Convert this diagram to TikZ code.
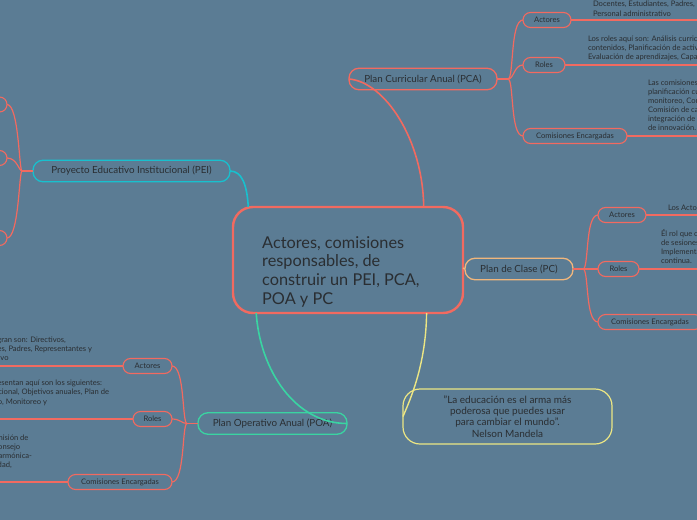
\documentclass[tikz,border=0pt]{standalone}
\usepackage{fontspec}
\setmainfont{Lato}
\definecolor{bg}{RGB}{91,124,148}
\definecolor{coral}{RGB}{242,106,96}
\definecolor{pcyan}{RGB}{24,192,206}
\definecolor{pgreen}{RGB}{58,212,162}
\definecolor{pyellow}{RGB}{236,230,132}
\definecolor{porange}{RGB}{240,182,124}
\definecolor{ink}{RGB}{42,46,50}
\begin{document}
\begin{tikzpicture}[x=1pt,y=-1pt,
  mainbox/.style={draw, line width=1.3pt, rounded corners=10pt, minimum height=21.5pt, inner sep=0pt, outer sep=0pt, text=ink, font=\fontsize{9.8}{11}\selectfont},
  subbox/.style={draw=coral, line width=1.1pt, rounded corners=7.5pt, minimum height=15pt, inner sep=0pt, outer sep=0pt, text=ink, font=\fontsize{7.6}{9}\selectfont},
  desc/.style={inner sep=0pt, outer sep=0pt, text=ink, align=left, font=\fontsize{7.6}{9.3}\selectfont},
  link/.style={coral, line width=1.3pt},
  bracket/.style={coral, line width=1.2pt},
]
\useasboundingbox (0,0) rectangle (697,520);
\fill[bg] (0,0) rectangle (697,520);
\begin{scope}
\clip (0,0) rectangle (697,520);
\coordinate (rightedge) at (705,0);
\coordinate (leftedge) at (-8,0);

% central topic
\node[draw=coral, line width=2.4pt, rounded corners=20pt, minimum width=230pt, minimum height=106pt, inner sep=0pt, outer sep=0pt] (central) at (348,260) {};
\node[anchor=base west, align=left, inner sep=0pt, text=ink, font=\fontsize{16.3}{18.8}\selectfont] (centraltxt) at (262,304.4) {Actores, comisiones\\responsables, de\\construir un PEI, PCA,\\POA y PC};

% main topics
\node[mainbox, draw=coral, minimum width=148pt] (pca) at (423,79) {Plan Curricular Anual (PCA)};
\node[mainbox, draw=pcyan, minimum width=197pt] (pei) at (131.5,171) {Proyecto Educativo Institucional (PEI)};
\node[mainbox, draw=pgreen, minimum width=149pt] (poa) at (272.5,423.5) {Plan Operativo Anual (POA)};
\node[mainbox, draw=porange, minimum width=108pt] (pc) at (519,269) {Plan de Clase (PC)};
\node[draw=pyellow, line width=1.2pt, rounded corners=17pt, minimum width=209pt, minimum height=55pt, inner sep=0pt, outer sep=0pt, align=center, text=ink, font=\fontsize{10}{11.2}\selectfont] (quote) at (507.5,416.5) {"La educación es el arma más\\poderosa que puedes usar\\para cambiar el mundo".\\Nelson Mandela};

% connectors from central topic
\draw[coral, line width=1.6pt] (central.35) .. controls (423,140) and (385,82) .. (pca.west);
\draw[pcyan, line width=1.6pt] (pei.east) .. controls (242,171) and (247,185) .. (central.152);
\draw[pgreen, line width=1.6pt] (central.210) .. controls (260,370) and (295,423.5) .. (poa.east);
\draw[pyellow, line width=1.4pt] (central.-34.5) .. controls (426,365) and (410,400) .. (quote.west);
\draw[porange, line width=1.4pt] (central.-4.5) -- (pc.west);

% ---------- PCA subtopics
\node[subbox, minimum width=48pt] (pcaA) at (547,20) {Actores};
\node[subbox, minimum width=42pt] (pcaR) at (544,65) {Roles};
\node[subbox, minimum width=104pt] (pcaC) at (575,136) {Comisiones Encargadas};
\coordinate (pcaJ) at (508,79);
\draw[bracket] (pca.east) -- (pcaJ);
\draw[bracket] (pcaJ) .. controls +(6,0) and +(-13,0) .. (pcaA.west);
\draw[bracket] (pcaJ) .. controls +(6,0) and +(-9,0) .. (pcaR.west);
\draw[bracket] (pcaJ) .. controls +(6,0) and +(-13,0) .. (pcaC.west);
\draw[link] (pcaA.east) -- (pcaA.east -| rightedge);
\draw[link] (pcaR.east) -- (pcaR.east -| rightedge);
\draw[link] (pcaC.east) -- (pcaC.east -| rightedge);
\node[desc, anchor=base west] (pcaAd) at (593,16) {Los actores que integran son: Directivos,\\Docentes, Estudiantes, Padres, Representantes y\\Personal administrativo};
\node[desc, anchor=base west] (pcaRd) at (588,59.6) {Los roles aquí son: Análisis curricular,\\contenidos, Planificación de actividades,\\Evaluación de aprendizajes, Capacitación};
\node[desc, anchor=base west, font=\fontsize{7.6}{9}\selectfont] (pcaCd) at (648,130.5) {Las comisiones son: Comisión de\\planificación curricular,\\monitoreo, Comisión\\Comisión de calidad,\\integración de áreas\\de innovación.};

% ---------- PC subtopics
\node[subbox, minimum width=48pt] (pcA) at (622,215) {Actores};
\node[subbox, minimum width=41pt] (pcR) at (618.5,269) {Roles};
\node[subbox, minimum width=104pt] (pcC) at (650,322) {Comisiones Encargadas};
\coordinate (pcJ) at (583,269);
\draw[bracket] (pc.east) -- (pcJ);
\draw[bracket] (pcJ) .. controls +(6,0) and +(-13,0) .. (pcA.west);
\draw[bracket] (pcJ) -- (pcR.west);
\draw[bracket] (pcJ) .. controls +(6,0) and +(-13,0) .. (pcC.west);
\draw[link] (pcA.east) -- (pcA.east -| rightedge);
\draw[link] (pcR.east) -- (pcR.east -| rightedge);
\node[desc, anchor=base west] (pcAd) at (668,210.5) {Los Actores son: Docentes y Estudiantes};
\node[desc, anchor=base west, font=\fontsize{7.6}{9}\selectfont] (pcRd) at (661,263.5) {Él rol que cumplen es: Planificación\\de sesiones de aprendizaje,\\Implementación y evaluación\\continua.};

% ---------- PEI subtopics
\node[subbox, minimum width=48pt] (peiA) at (-17,104.5) {};
\node[subbox, minimum width=41pt] (peiR) at (-13.5,158) {};
\node[subbox, minimum width=104pt] (peiC) at (-45,238) {};
\coordinate (peiJ) at (22,171);
\draw[bracket] (pei.west) -- (peiJ);
\draw[bracket] (peiJ) .. controls +(-3,0) and +(12,0) .. (peiA.east);
\draw[bracket] (peiJ) .. controls +(-3,0) and +(10,0) .. (peiR.east);
\draw[bracket] (peiJ) .. controls +(-3,0) and +(12,0) .. (peiC.east);

% ---------- POA subtopics
\node[subbox, minimum width=49pt] (poaA) at (147.5,366) {Actores};
\node[subbox, minimum width=39pt] (poaR) at (152.5,419) {Roles};
\node[subbox, minimum width=104pt] (poaC) at (120,482) {Comisiones Encargadas};
\coordinate (poaJ) at (187,423.5);
\draw[bracket] (poa.west) -- (poaJ);
\draw[bracket] (poaJ) .. controls +(-5,0) and +(13,0) .. (poaA.east);
\draw[bracket] (poaJ) .. controls +(-5,0) and +(8,0) .. (poaR.east);
\draw[bracket] (poaJ) .. controls +(-5,0) and +(13,0) .. (poaC.east);
\draw[link] (poaA.west) -- (poaA.west -| leftedge);
\draw[link] (poaR.west) -- (poaR.west -| leftedge);
\draw[link] (poaC.west) -- (poaC.west -| leftedge);
\node[desc, anchor=base east] (poaAd) at (92,360.6) {Los actores que integran son: Directivos,\\Docentes, Estudiantes, Padres, Representantes y\\Personal administrativo};
\node[desc, anchor=base east] (poaRd) at (109,404.1) {Los roles que se presentan aquí son los siguientes:\\Diagnóstico institucional, Objetivos anuales, Plan de\\acción, Presupuesto, Monitoreo y};
\node[desc, anchor=base east] (poaCd) at (32,467.9) {Las comisiones son: Comisión de\\gestión de riesgos y el consejo\\estudiantil, convivencia armónica-\\participación, la comunidad,};
\end{scope}
\end{tikzpicture}
\end{document}
